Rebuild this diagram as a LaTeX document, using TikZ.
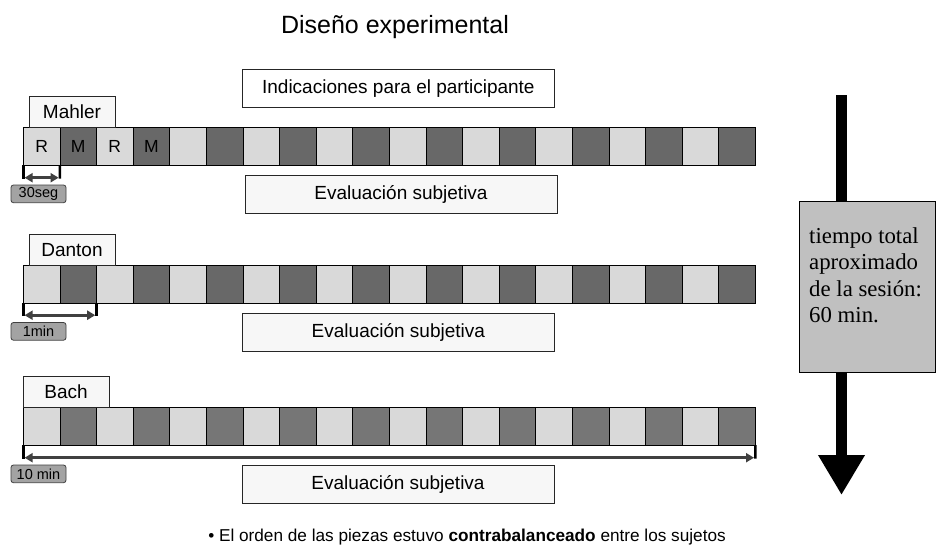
\documentclass[tikz,border=0pt]{standalone}
\usepackage{fontspec}
\setmainfont{Liberation Sans}
\newfontfamily\serifx{Liberation Serif}
\usetikzlibrary{arrows.meta}
\definecolor{lightsq}{HTML}{D9D9D9}
\definecolor{darkA}{HTML}{686868}
\definecolor{darkB}{HTML}{767676}
\definecolor{lblfill}{HTML}{F7F7F7}
\definecolor{timefill}{HTML}{A3A3A3}
\definecolor{boxfill}{HTML}{C0C0C0}
\definecolor{dimcol}{HTML}{404040}
\tikzset{
  sq/.style={draw=black, line width=0.8pt, minimum width=36.6pt, minimum height=37.3pt, inner sep=0pt, outer sep=0pt, anchor=north west},
  sqtxt/.style={font=\fontsize{17.5}{20}\selectfont, inner sep=0pt},
  lbl/.style={draw=black!85, fill=lblfill, line width=0.8pt, inner sep=0pt, font=\fontsize{19}{22}\selectfont},
  timebox/.style={draw=dimcol, fill=timefill, line width=0.8pt, rounded corners=2.5pt, minimum width=55pt, minimum height=17.7pt, inner sep=0pt, font=\fontsize{14.5}{16}\selectfont},
  tickline/.style={draw=black, line width=2.6pt},
  dimarrow/.style={draw=dimcol, line width=2.8pt, {Triangle[length=8pt,width=9pt]}-{Triangle[length=8pt,width=9pt]}, shorten <=1.3pt, shorten >=1.3pt},
}
\begin{document}
\begin{tikzpicture}[x=1pt,y=-1pt]
\useasboundingbox[fill=white] (0,0) rectangle (936,544);

% title
\node[anchor=base, font=\fontsize{25}{28}\selectfont] (title) at (395,33.5) {Diseño experimental};

% rows of squares
\foreach \row/\yy/\dk in {m/127.7/darkA, d/265.7/darkA, b/407.7/darkB} {
  \foreach \i in {1,...,20} {
    \ifodd\i
      \node[sq, fill=lightsq] (\row\i) at ({23.3+(\i-1)*36.6}, \yy) {};
    \else
      \node[sq, fill=\dk] (\row\i) at ({23.3+(\i-1)*36.6}, \yy) {};
    \fi
  }
}

% letters in Mahler row
\node[sqtxt] (tr1) at (m1.center) {R};
\node[sqtxt] (tm1) at (m2.center) {M};
\node[sqtxt] (tr2) at (m3.center) {R};
\node[sqtxt] (tm2) at (m4.center) {M};

% piece labels
\node[lbl, minimum width=86pt, minimum height=31.7pt] (lmahler) at (72,111.85) {Mahler};
\node[lbl, minimum width=86pt, minimum height=31.4pt] (ldanton) at (72,250) {Danton};
\node[lbl, minimum width=85.7pt, minimum height=31.7pt] (lbach) at (66.15,391.85) {Bach};

% instruction and evaluation boxes
\node[lbl, fill=white, minimum width=311.3pt, minimum height=38pt] (indic) at (398.35,88.3) {Indicaciones para el participante};
\node[lbl, minimum width=312pt, minimum height=37.6pt] (evm) at (401,194.5) {Evaluación subjetiva};
\node[lbl, minimum width=311.3pt, minimum height=38.4pt] (evd) at (398.35,332.5) {Evaluación subjetiva};
\node[lbl, minimum width=312pt, minimum height=38pt] (evb) at (398,484) {Evaluación subjetiva};

% duration brackets
\coordinate (ma) at (23.3,178.5);
\coordinate (mb) at (59.9,178.5);
\draw[tickline] (m1.south west) -- (ma);
\draw[tickline] (m1.south east) -- (mb);
\draw[dimarrow] ([yshift=0.8pt]ma) -- ([yshift=0.8pt]mb);

\coordinate (da) at (23.3,316);
\coordinate (db) at (96.5,316);
\draw[tickline] (d1.south west) -- (da);
\draw[tickline] (d2.south east) -- (db);
\draw[dimarrow] ([yshift=0.8pt]da) -- ([yshift=0.8pt]db);

\coordinate (ba) at (23.3,458.5);
\coordinate (bb) at (755.3,458.5);
\draw[tickline] (b1.south west) -- (ba);
\draw[tickline] (b20.south east) -- (bb);
\draw[dimarrow] ([yshift=0.8pt]ba) -- ([yshift=0.8pt]bb);

% time boxes
\node[timebox] (t30) at (38.5,193.85) {30seg};
\node[timebox] (t1) at (38.5,331.35) {1min};
\node[timebox] (t10) at (38.5,473.85) {10 min};

% total time arrow
\coordinate (ta) at (841.5,95);
\coordinate (tb) at (841.5,495);
\draw[line width=11pt, black, -{Triangle[width=44pt,length=40pt]}] (ta) -- (tb);
\node[draw=black, fill=boxfill, line width=0.9pt, minimum width=136pt, minimum height=170.3pt, inner sep=0pt] (tbox) at (867,286.85) {};
\node[anchor=base west, inner sep=0pt, font=\serifx\fontsize{22.8}{26}\selectfont] (tl1) at (809,243) {tiempo total};
\node[anchor=base west, inner sep=0pt, font=\serifx\fontsize{22.8}{26}\selectfont] (tl2) at (809,269.6) {aproximado};
\node[anchor=base west, inner sep=0pt, font=\serifx\fontsize{22.8}{26}\selectfont] (tl3) at (809,296.2) {de la sesión:};
\node[anchor=base west, inner sep=0pt, font=\serifx\fontsize{22.8}{26}\selectfont] (tl4) at (809,322.8) {60 min.};

% note
\node[anchor=base, inner sep=0pt, font=\fontsize{17.2}{20}\selectfont] (note) at (467,541.5) {• El orden de las piezas estuvo \textbf{contrabalanceado} entre los sujetos};
\end{tikzpicture}
\end{document}
